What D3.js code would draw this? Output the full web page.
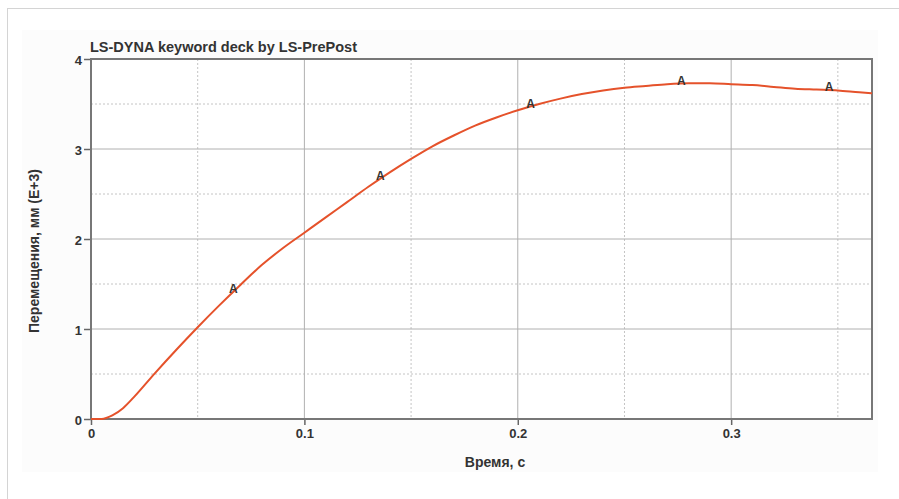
<!DOCTYPE html>
<html>
<head>
<meta charset="utf-8">
<script src="https://cdn.jsdelivr.net/npm/d3@7"></script>
<style>
  body { margin: 0; background: #fff; }
  svg text { font-family: "Liberation Sans", Arial, sans-serif; font-weight: bold; fill: #333; }
</style>
</head>
<body>
<svg id="chart" width="899" height="499"></svg>
<script>
// Curve (time s, displacement mm E+3)
const times = [0, 0.005, 0.01, 0.015, 0.02, 0.03, 0.04, 0.05, 0.06, 0.07, 0.08, 0.09, 0.1,
    0.11, 0.12, 0.13, 0.14, 0.15, 0.16, 0.17, 0.18, 0.19, 0.2, 0.21, 0.22, 0.23, 0.24,
    0.25, 0.26, 0.27, 0.28, 0.29, 0.3, 0.31, 0.32, 0.33, 0.34, 0.35, 0.36, 0.366];
const displacement = [0, 0.0, 0.04, 0.12, 0.24, 0.51, 0.77, 1.02, 1.26, 1.49, 1.71, 1.90, 2.07,
    2.24, 2.41, 2.58, 2.74, 2.89, 3.03, 3.15, 3.26, 3.35, 3.43, 3.50, 3.56, 3.61, 3.65,
    3.68, 3.70, 3.72, 3.73, 3.73, 3.72, 3.71, 3.69, 3.67, 3.66, 3.65, 3.63, 3.62];
// Curve label "A" markers
const markerTimes = [0.0667, 0.1356, 0.206, 0.2766, 0.3459];

const xTicks = [0, 0.1, 0.2, 0.3];
const yTicks = [0, 1, 2, 3, 4];
const xMinor = [0.05, 0.15, 0.25, 0.35];
const yMinor = [0.5, 1.5, 2.5, 3.5];

const title = 'LS-DYNA keyword deck by LS-PrePost';
const xLabel = 'Время, с';
const yLabel = 'Перемещения, мм (E+3)';

const svg = d3.select('#chart');
const plotLeft = 91, plotRight = 872, plotTop = 59, plotBottom = 419;

const x = d3.scaleLinear().domain([0, 0.366]).range([plotLeft, plotRight]);
const y = d3.scaleLinear().domain([0, 4]).range([plotBottom, plotTop]);

// Page frame
svg.append('rect').attr('x', 22).attr('y', 30).attr('width', 856).attr('height', 442)
    .attr('fill', '#fcfcfc');
svg.append('line').attr('x1', 7).attr('x2', 899).attr('y1', 8.5).attr('y2', 8.5)
    .attr('stroke', '#d4d4d4');
svg.append('line').attr('x1', 7.5).attr('x2', 7.5).attr('y1', 8).attr('y2', 499)
    .attr('stroke', '#d4d4d4');

svg.append('rect').attr('x', plotLeft).attr('y', plotTop).attr('width', plotRight - plotLeft)
    .attr('height', plotBottom - plotTop).attr('fill', '#fff');

// Minor grid (dotted)
svg.append('g').selectAll('line').data(xMinor).join('line')
    .attr('x1', d => x(d)).attr('x2', d => x(d)).attr('y1', plotTop).attr('y2', plotBottom)
    .attr('stroke', '#c4c4c4').attr('stroke-dasharray', '2,2');
svg.append('g').selectAll('line').data(yMinor).join('line')
    .attr('x1', plotLeft).attr('x2', plotRight).attr('y1', d => y(d)).attr('y2', d => y(d))
    .attr('stroke', '#c4c4c4').attr('stroke-dasharray', '2,2');

// Major grid
svg.append('g').selectAll('line').data(xTicks.slice(1)).join('line')
    .attr('x1', d => x(d)).attr('x2', d => x(d)).attr('y1', plotTop).attr('y2', plotBottom)
    .attr('stroke', '#b0b0b0');
svg.append('g').selectAll('line').data(yTicks.slice(1, -1)).join('line')
    .attr('x1', plotLeft).attr('x2', plotRight).attr('y1', d => y(d)).attr('y2', d => y(d))
    .attr('stroke', '#b0b0b0');

// Axes
const xAxis = svg.append('g').attr('transform', `translate(0,${plotBottom})`)
    .call(d3.axisBottom(x).tickValues(xTicks).tickFormat(d3.format('')).tickSize(6).tickSizeOuter(0));
const yAxis = svg.append('g').attr('transform', `translate(${plotLeft},0)`)
    .call(d3.axisLeft(y).tickValues(yTicks).tickFormat(d3.format('d')).tickSize(7).tickSizeOuter(0));
[xAxis, yAxis].forEach(a => {
    a.select('.domain').remove();
    a.selectAll('line').attr('stroke', '#666').attr('stroke-width', 1.5);
    a.selectAll('text').style('font-size', '13px').attr('fill', '#333');
});
yAxis.selectAll('text').attr('x', -9).attr('dy', '0.4em');
xAxis.selectAll('text').attr('y', 10);

// Plot frame
svg.append('rect').attr('x', plotLeft).attr('y', plotTop).attr('width', plotRight - plotLeft)
    .attr('height', plotBottom - plotTop).attr('fill', 'none').attr('stroke', '#777').attr('stroke-width', 2);

// Curve
const pts = times.map((t, i) => [t, displacement[i]]);
const line = d3.line().x(d => x(d[0])).y(d => y(d[1])).curve(d3.curveMonotoneX);
svg.append('path').datum(pts).attr('d', line)
    .attr('fill', 'none').attr('stroke', '#e5522b').attr('stroke-width', 2);

// "A" markers on the curve
const interp = t => {
    const i = d3.bisectLeft(times, t);
    const t0 = times[i - 1], t1 = times[i];
    const k = (t - t0) / (t1 - t0);
    return displacement[i - 1] + k * (displacement[i] - displacement[i - 1]);
};
svg.append('g').selectAll('text').data(markerTimes).join('text')
    .attr('x', d => x(d)).attr('y', d => y(interp(d)) + 1)
    .attr('text-anchor', 'middle').style('font-size', '12px').attr('fill', '#333')
    .text('A');

// Title and axis labels
svg.append('text').attr('x', plotLeft - 1).attr('y', 52).style('font-size', '14.5px')
    .attr('fill', '#333').text(title);
svg.append('text').attr('x', 495).attr('y', 467).attr('text-anchor', 'middle')
    .style('font-size', '14px').text(xLabel);
svg.append('text').attr('transform', `translate(39,${(plotTop + plotBottom) / 2 + 12}) rotate(-90)`)
    .attr('text-anchor', 'middle').style('font-size', '14px').text(yLabel);
</script>
</body>
</html>
